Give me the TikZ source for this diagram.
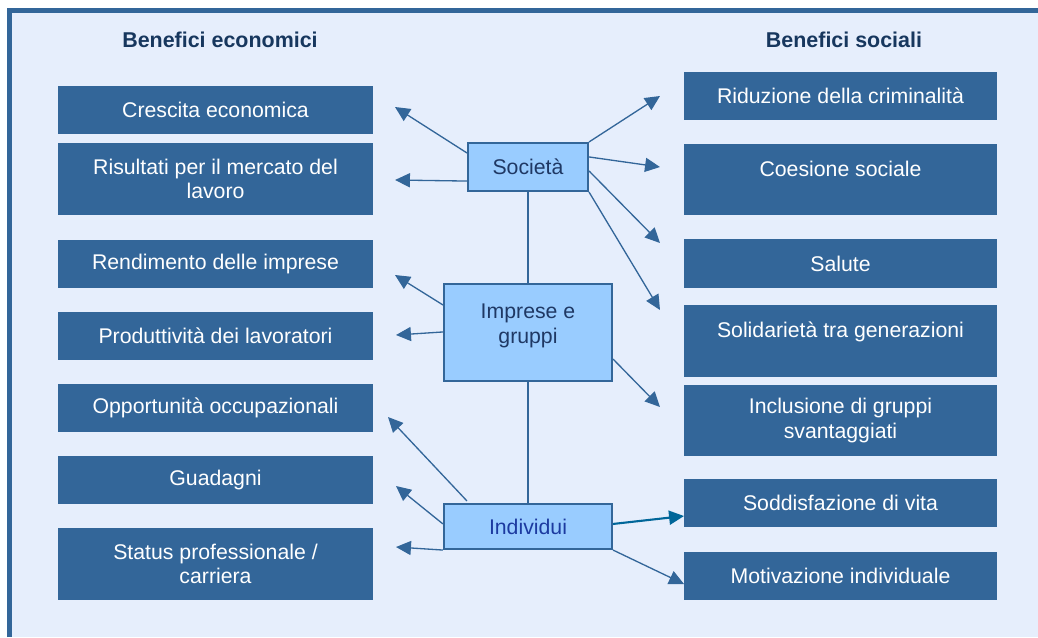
\documentclass[tikz,border=0pt]{standalone}
\usepackage{fontspec}
\setmainfont{Liberation Sans}
\usetikzlibrary{arrows.meta,calc}
\definecolor{boxblue}{HTML}{336699}
\definecolor{midblue}{HTML}{99CCFF}
\definecolor{bgblue}{HTML}{E6EEFC}
\definecolor{headblue}{HTML}{17375E}
\definecolor{midtext}{HTML}{1F3864}
\definecolor{indtext}{HTML}{1C3AA0}
\definecolor{tealblue}{HTML}{006699}
\tikzset{
  benefit/.style={fill=boxblue, text=white, inner sep=0pt, align=center,
    font=\fontsize{12.1}{13.8}\selectfont},
  ecobox/.style={benefit, minimum width=6.3cm},
  socbox/.style={benefit, minimum width=6.26cm},
  level/.style={draw=boxblue, line width=1.2pt, fill=midblue, text=midtext, inner sep=0pt,
    align=center, font=\fontsize{12.1}{13.8}\selectfont},
  heading/.style={text=headblue, font=\fontsize{12.2}{13.8}\selectfont\bfseries},
  link/.style={draw=boxblue, line width=0.75pt, -{Triangle[length=8.5pt,width=8pt]}},
}
\begin{document}
\begin{tikzpicture}[x=0.02cm, y=-0.02cm]
\useasboundingbox (0,0) rectangle (1038,637);
\fill[white] (0,0) rectangle (1038,637);
\fill[bgblue] (9,10) rectangle (1038,637);
\draw[boxblue, line width=2.6pt] (9.5,637) -- (9.5,10.5) -- (1038,10.5);

\node[heading] at (220,40) {Benefici economici};
\node[heading] at (844,40) {Benefici sociali};

% benefici economici
\node[ecobox, minimum height=0.96cm] (crescita) at (215.5,110) {Crescita economica};
\node[ecobox, minimum height=1.44cm] (mercato) at (215.5,179) {Risultati per il mercato del\\lavoro};
\node[ecobox, minimum height=0.96cm] (rendimento) at (215.5,263.5) {Rendimento delle imprese};
\node[ecobox, minimum height=0.96cm] (produtt) at (215.5,336) {Produttività dei lavoratori};
\node[ecobox, minimum height=0.96cm] (opport) at (215.5,408) {Opportunità occupazionali};
\node[ecobox, minimum height=0.96cm] (guadagni) at (215.5,480) {Guadagni};
\node[ecobox, minimum height=1.44cm] (status) at (215.5,564) {Status professionale /\\carriera};

% benefici sociali
\node[socbox, minimum height=0.96cm] (crimin) at (840.5,96) {Riduzione della criminalità};
\node[socbox, minimum height=1.42cm] (coesione) at (840.5,179.5) {Coesione sociale\\[-5.5pt]\strut};
\node[socbox, minimum height=0.98cm] (salute) at (840.5,263.5) {Salute};
\node[socbox, minimum height=1.44cm] (solid) at (840.5,341) {Solidarietà tra generazioni\\[-5.5pt]\strut};
\node[socbox, minimum height=1.42cm] (inclus) at (840.5,420.5) {Inclusione di gruppi\\svantaggiati};
\node[socbox, minimum height=0.96cm] (soddisf) at (840.5,503) {Soddisfazione di vita};
\node[socbox, minimum height=0.96cm] (motiv) at (840.5,576) {Motivazione individuale};

% livelli
\node[level, minimum width=2.4cm, minimum height=0.96cm] (societa) at (528,167) {Società};
\node[level, minimum width=3.36cm, minimum height=1.94cm] (imprese) at (528,332.5) {Imprese e\\gruppi\\[-8pt]\strut};
\node[level, minimum width=3.36cm, minimum height=0.9cm, text=indtext] (individui) at (528,526.5) {Individui};

\draw[boxblue, line width=1.2pt] (societa) -- (imprese) -- (individui);

\coordinate (s1) at (395,107);
\coordinate (s2) at (395,180);
\coordinate (s3) at (660,96);
\coordinate (s4) at (660,167);
\coordinate (s5) at (660,243);
\coordinate (s6) at (660,310);
\coordinate (i1) at (395,275);
\coordinate (i2) at (396,335);
\coordinate (i3) at (660,407);
\coordinate (p1) at (388,417);
\coordinate (p2) at (396,486);
\coordinate (p3) at (396,547);
\coordinate (p4) at (684,516);
\coordinate (p5) at (684,584);

\draw[link] ($(societa.north west)+(0,11)$) -- (s1);
\draw[link] ($(societa.south west)+(0,-11)$) -- (s2);
\draw[link] (societa.north east) -- (s3);
\draw[link] ($(societa.north east)+(0,15)$) -- (s4);
\draw[link] ($(societa.north east)+(0,29)$) -- (s5);
\draw[link] (societa.south east) -- (s6);

\draw[link] ($(imprese.north west)+(0,22)$) -- (i1);
\draw[link] ($(imprese.north west)+(0,49)$) -- (i2);
\draw[link] ($(imprese.south east)+(0,-23)$) -- (i3);

\draw[link] ($(individui.north west)+(24,-2)$) -- (p1);
\draw[link] ($(individui.north west)+(0,21)$) -- (p2);
\draw[link] (individui.south west) -- (p3);
\draw[link, draw=tealblue, line width=1.2pt] ($(individui.north east)+(0,21)$) -- (p4);
\draw[link] (individui.south east) -- (p5);
\end{tikzpicture}
\end{document}
